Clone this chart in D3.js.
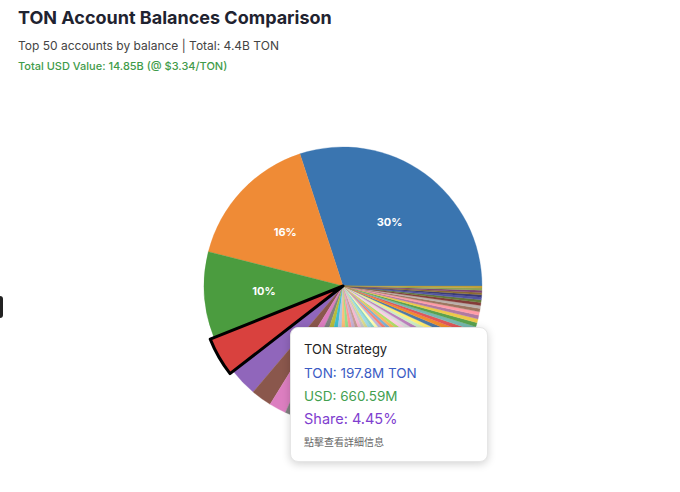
<!DOCTYPE html>
<html>
<head>
<meta charset="utf-8">
<script src="https://cdn.jsdelivr.net/npm/d3@7"></script>
<style>
  body { margin: 0; background: #fff; font-family: Inter, "Noto Sans", sans-serif; }
  #wrap { position: relative; width: 680px; height: 492px; overflow: hidden; }
  .tip {
    position: absolute; background: #fff; border-radius: 8px;
    box-shadow: 0 2px 8px rgba(0,0,0,0.18); border: 1px solid #e6e6e6;
    box-sizing: border-box; padding: 12px 13px;
  }
  .tip div { white-space: nowrap; }
  .side-btn { position: absolute; left: -4px; top: 296px; width: 7px; height: 22px; background: #222; border-radius: 3px; }
</style>
</head>
<body>
<div id="wrap">
  <svg id="svg" width="680" height="492"></svg>
  <div class="side-btn"></div>
</div>
<script>
// top 50 TON accounts, balances in millions of TON
const accounts = [
  "Telegram Treasury", "TON Foundation", "OKX Hot Wallet", "TON Strategy", "Bybit Cold Wallet",
  "Binance Reserve", "Elector Contract", "Bitget Wallet", "Tonstakers Pool", "Whales Pool",
  "Gate.io", "HTX", "KuCoin", "MEXC", "Bemo Staking",
  "Hipo Finance", "Crypto.com", "Fragment", "STON.fi Router", "DeDust Vault",
  "CryptoBot", "Wallet in Telegram", "Notcoin Treasury", "Early Investor A", "Early Investor B",
  "Validator 01", "Validator 02", "Validator 03", "Validator 04", "Validator 05",
  "Upbit", "Bithumb", "Kraken", "Coinbase Custody", "Lido Legacy",
  "Market Maker A", "Market Maker B", "Locker Contract", "Ecosystem Fund", "Grant Pool",
  "Whale 41", "Whale 42", "Whale 43", "Whale 44", "Whale 45",
  "Whale 46", "Whale 47", "Whale 48", "Whale 49", "Whale 50"
];
const balances = [
  1335, 712, 446, 197.78, 147, 107, 88, 78, 72, 68,
  64, 60, 57, 54, 51, 49, 47, 45, 43, 41,
  39, 37, 35, 34, 33, 32, 31, 30, 29, 28,
  27, 26, 25, 24, 23, 22, 21, 20, 19, 18,
  17, 16, 15, 14, 13, 12.5, 12, 11.5, 11, 10.5
];
const tonPrice = 3.34;
const hovered = "TON Strategy";

const baseColors = ["#3a75b0", "#ef8b36", "#4b9c3f", "#d9413e", "#9066bb", "#8a574c", "#dc7ec0", "#808080", "#b9bb3a", "#3fbccd"];
const lightColors = ["#aec7e8", "#ffbb78", "#98df8a", "#ff9896", "#c5b0d5", "#c49c94", "#f7b6d2", "#c7c7c7", "#dbdb8d", "#9edae5"];
const darkColors = ["#843c39", "#637939", "#5254a3", "#393b79", "#8c6d31", "#7b4173", "#8ca252", "#bd9e39"];

const data = accounts.map((name, i) => ({ name, value: balances[i] }));
const total = d3.sum(balances);

const svg = d3.select('#svg');
const fmtB = v => (v / 1000).toFixed(1) + 'B';

svg.append('text').attr('x', 18).attr('y', 24)
  .attr('font-size', 18).attr('font-weight', 700).attr('fill', '#1f2330')
  .text('TON Account Balances Comparison');
svg.append('text').attr('x', 18).attr('y', 50)
  .attr('font-size', 12).attr('fill', '#444')
  .text(`Top ${data.length} accounts by balance | Total: ${fmtB(total)} TON`);
svg.append('text').attr('x', 18).attr('y', 70)
  .attr('font-size', 11).attr('font-weight', 500).attr('fill', '#3f9b4a')
  .text(`Total USD Value: ${(total * tonPrice / 1000).toFixed(2)}B (@ $${tonPrice}/TON)`);

const cx = 343, cy = 286, R = 139;
const colors = baseColors.concat(lightColors, d3.schemeSet3, d3.schemeTableau10, darkColors);
const color = d3.scaleOrdinal().domain(accounts).range(colors);

// slices run counter-clockwise from 3 o'clock
const pie = d3.pie().value(d => d.value).sort(null)
  .startAngle(Math.PI / 2).endAngle(Math.PI / 2 - 2 * Math.PI);
const arc = d3.arc().innerRadius(0).outerRadius(R);
const arcHover = d3.arc().innerRadius(0).outerRadius(R + 4);
const labelArc = d3.arc().innerRadius(R * 0.57).outerRadius(R * 0.57);

const g = svg.append('g').attr('transform', `translate(${cx},${cy})`);
const arcs = pie(data);

g.selectAll('path.slice')
  .data(arcs.filter(d => d.data.name !== hovered))
  .enter().append('path')
  .attr('class', 'slice')
  .attr('d', arc)
  .attr('fill', d => color(d.data.name))
  .attr('stroke', d => color(d.data.name))
  .attr('stroke-width', 0.3);

g.selectAll('path.hover')
  .data(arcs.filter(d => d.data.name === hovered))
  .enter().append('path')
  .attr('class', 'hover')
  .attr('d', arcHover)
  .attr('fill', d => color(d.data.name))
  .attr('stroke', '#000')
  .attr('stroke-width', 3)
  .attr('stroke-linejoin', 'round');

g.selectAll('text.pct')
  .data(arcs.filter(d => d.data.value / total >= 0.05))
  .enter().append('text')
  .attr('class', 'pct')
  .attr('transform', d => `translate(${labelArc.centroid(d)})`)
  .attr('text-anchor', 'middle').attr('dy', '0.35em')
  .attr('font-size', 11).attr('font-weight', 700).attr('fill', '#fff')
  .text(d => Math.round(d.data.value / total * 100) + '%');

// tooltip for the hovered account
const hv = data.find(d => d.name === hovered);
const tip = d3.select('#wrap').append('div').attr('class', 'tip')
  .style('left', '290px').style('top', '327px')
  .style('width', '198px').style('height', '135px');
tip.append('div').style('font-size', '13px').style('color', '#222').style('margin-top', '1px')
  .text(hv.name);
tip.append('div').style('font-size', '13.5px').style('color', '#3b5cc4').style('margin-top', '8px')
  .text(`TON: ${hv.value.toFixed(1)}M TON`);
tip.append('div').style('font-size', '13.5px').style('color', '#43a04f').style('margin-top', '7px')
  .text(`USD: ${(hv.value * tonPrice).toFixed(2)}M`);
tip.append('div').style('font-size', '14.5px').style('color', '#7f3fcf').style('margin-top', '6px')
  .text(`Share: ${(hv.value / total * 100).toFixed(2)}%`);
tip.append('div').style('font-size', '10px').style('color', '#666').style('margin-top', '7px')
  .style('font-family', '"Noto Sans CJK TC", sans-serif')
  .text('點擊查看詳細信息');
</script>
</body>
</html>
